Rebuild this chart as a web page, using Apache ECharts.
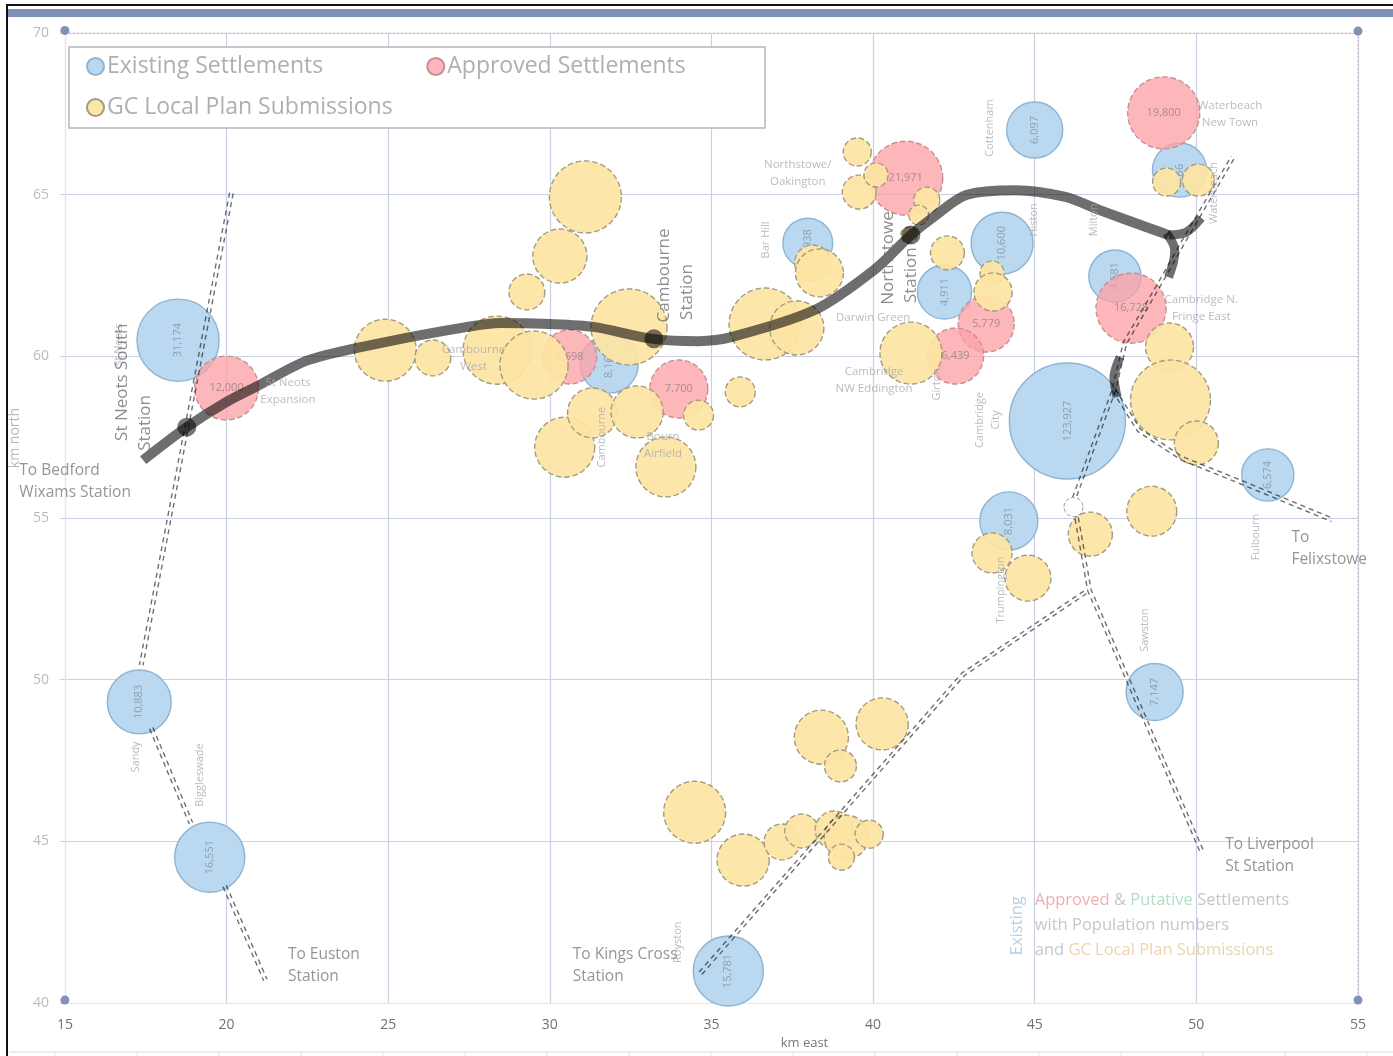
<!DOCTYPE html>
<html>
<head>
<meta charset="utf-8">
<title>Settlements around Cambridge</title>
<script src="https://cdn.jsdelivr.net/npm/echarts@6/dist/echarts.min.js"></script>
<style>
  html, body { margin: 0; padding: 0; background: #fff; }
  #chart { width: 1393px; height: 1056px; }
</style>
</head>
<body>
<div id="chart"></div>
<script>
// km east, km north, bubble diameter in km, population label
const existing = [
  [18.50, 60.50, 2.52, '31,174'], [17.30, 49.31, 1.96, '10,883'], [19.48, 44.51, 2.15, '16,551'],
  [31.84, 59.76, 1.78, '8,161'], [37.98, 63.50, 1.53, '4,938'], [42.21, 61.99, 1.66, '4,911'],
  [43.99, 63.50, 1.90, '10,600'], [45.00, 67.00, 1.72, '6,097'], [47.48, 62.48, 1.60, '4,681'],
  [46.01, 58.00, 3.56, '123,927'], [44.20, 54.91, 1.78, '8,031'], [49.48, 65.76, 1.66, '66'],
  [52.21, 56.33, 1.60, '6,574'], [48.71, 49.62, 1.75, '7,147'], [35.52, 40.99, 2.15, '15,781']
];
const approved = [
  [20.00, 59.02, 1.96, '12,000'], [30.61, 59.98, 1.66, '5,698'], [33.99, 58.99, 1.78, '7,700'],
  [41.01, 65.51, 2.27, '21,971'], [48.99, 67.53, 2.21, '19,800'], [47.98, 61.49, 2.15, '16,728'],
  [43.50, 61.00, 1.72, '5,779'], [42.55, 60.01, 1.72, '6,439']
];
// km east, km north, bubble diameter in km
const submissions = [
  [31.10, 64.93, 2.21], [30.31, 63.10, 1.66], [29.29, 61.99, 1.10], [32.45, 60.91, 2.33],
  [30.46, 57.19, 1.84], [31.32, 58.25, 1.53], [32.70, 58.28, 1.60], [34.60, 58.18, 0.92],
  [33.59, 56.58, 1.84], [35.89, 58.90, 0.92], [36.66, 61.00, 2.21], [37.64, 60.88, 1.66],
  [38.13, 62.89, 1.10], [38.34, 62.58, 1.47], [39.51, 66.32, 0.86], [39.57, 65.08, 1.04],
  [40.09, 65.61, 0.74], [41.66, 64.83, 0.80], [41.41, 64.37, 0.61], [41.10, 63.75, 0.49],
  [41.17, 60.10, 1.90], [42.30, 63.20, 1.04], [43.68, 62.58, 0.74], [43.71, 61.99, 1.17],
  [49.08, 65.39, 0.86], [50.06, 65.45, 0.98], [49.17, 60.29, 1.47], [49.20, 58.65, 2.45],
  [50.00, 57.32, 1.35], [48.62, 55.21, 1.53], [46.72, 54.50, 1.35], [43.68, 53.92, 1.23],
  [44.79, 53.14, 1.41], [24.91, 60.19, 1.90], [26.38, 59.95, 1.10], [28.37, 60.19, 2.09],
  [29.51, 59.73, 2.09], [34.48, 45.90, 1.90], [35.98, 44.42, 1.60], [37.18, 44.98, 1.10],
  [37.79, 45.32, 1.04], [38.80, 45.35, 1.17], [39.17, 45.13, 1.35], [39.02, 44.51, 0.80],
  [39.88, 45.22, 0.86], [38.40, 48.22, 1.66], [38.99, 47.33, 0.98], [40.28, 48.63, 1.60]
];

// East West Rail, thick line
const mainLine = [
  [17.42, 56.79], [18.77, 57.81], [20.00, 58.59], [21.01, 59.11], [22.55, 59.89], [24.91, 60.44],
  [27.45, 60.91], [28.47, 61.03], [30.00, 61.00], [31.35, 60.91], [33.19, 60.54], [34.60, 60.47],
  [35.64, 60.60], [38.19, 61.43], [40.03, 62.67], [41.17, 63.75], [41.87, 64.31], [42.88, 64.99],
  [44.42, 65.14], [45.95, 64.93], [46.99, 64.53], [48.53, 63.97], [49.14, 63.75]
];
const branchNorth = [[49.14, 63.75], [49.69, 63.84], [50.15, 64.28]];
const branchSouth = [[49.08, 63.81], [49.33, 63.29], [49.29, 62.92], [49.14, 62.45]];
const branchCity = [[47.64, 59.98], [47.45, 59.36], [47.55, 58.74]];
const stations = [[18.77, 57.81], [33.22, 60.54], [41.17, 63.75]];
const newStation = [[46.20, 55.34]];

// existing double track routes
const routeEcml = [[20.15, 65.05], [17.36, 50.45]];
const routeSandy = [[17.67, 48.50], [18.90, 45.56]];
const routeEuston = [[19.94, 43.62], [21.20, 40.71]];
const routeKingsCross = [[34.66, 40.92], [42.79, 50.17], [46.66, 52.77]];
const routeLiverpool = [[50.15, 44.73], [46.69, 52.77], [46.20, 55.56], [47.45, 58.96], [47.79, 60.41], [48.93, 62.36], [49.63, 63.60], [51.13, 66.16]];
const routeFelixstowe = [[47.45, 58.96], [48.22, 57.72], [49.54, 56.85], [51.38, 56.11], [54.20, 54.94]];
const routes = [routeEcml, routeSandy, routeEuston, routeKingsCross, routeLiverpool, routeFelixstowe];

const placeNames = [
  [21.90, 58.93, 'St Neots\nExpansion'], [27.64, 59.95, 'Cambourne\nWest'], [33.50, 57.26, 'Bourn\nAirfield'],
  [37.67, 65.67, 'Northstowe/\nOakington'], [40.00, 61.18, 'Darwin Green'], [40.03, 59.27, 'Cambridge\nNW Eddington'],
  [51.04, 67.49, 'Waterbeach\nNew Town'], [50.15, 61.49, 'Cambridge N.\nFringe East']
];
const placeNamesUp = [
  [16.66, 60.35, 'St Neots'], [31.60, 57.50, 'Cambourne'], [36.69, 63.60, 'Bar Hill'], [41.96, 59.14, 'Girton'],
  [43.56, 58.03, 'Cambridge\nCity'], [43.62, 67.06, 'Cottenham'], [44.97, 64.22, 'Histon'], [46.84, 64.22, 'Milton'],
  [50.55, 65.05, 'Waterbeach'], [51.84, 54.41, 'Fulbourn'], [48.40, 51.53, 'Sawston'], [43.96, 52.77, 'Trumpington'],
  [33.96, 41.88, 'Royston'], [17.18, 47.61, 'Sandy'], [19.17, 47.05, 'Biggleswade']
];
const stationNames = [
  [13.59, 56.14, 'To Bedford\nWixams Station'], [21.90, 41.17, 'To Euston\nStation'],
  [30.71, 41.17, 'To Kings Cross\nStation'], [50.89, 44.57, 'To Liverpool\nSt Station'], [52.94, 54.04, 'To\nFelixstowe']
];
const stationNamesUp = [
  [16.78, 59.20, 'St Neots South'], [17.48, 57.94, 'Station'], [33.53, 62.50, 'Cambourne'],
  [34.26, 61.99, 'Station'], [40.46, 63.04, 'Northstowe'], [41.17, 62.51, 'Station']
];

const xTicks = { min: 15, max: 55, interval: 5 };
const yTicks = { min: 40, max: 70, interval: 5 };

const FONT = '"Open Sans", sans-serif';
const PX_PER_KM = 32.6;

// second rail of a track, shifted sideways from the route
function parallel(route, off) {
  return route.map((p, i) => {
    let a = route[Math.max(i - 1, 0)];
    let b = route[Math.min(i + 1, route.length - 1)];
    let dx = b[0] - a[0], dy = b[1] - a[1];
    let len = Math.sqrt(dx * dx + dy * dy);
    return [p[0] - dy / len * off, p[1] + dx / len * off];
  });
}

let bubbles = (name, rows, color, border, borderType, labelStyle, z) => ({
  name: name,
  type: 'scatter',
  z: z,
  silent: true,
  data: rows.map(r => ({ value: [r[0], r[1], r[2]], name: r[3] || '' })),
  symbolSize: v => v[2] * PX_PER_KM,
  itemStyle: { color: color, opacity: 1, borderColor: border, borderWidth: 1.4, borderType: borderType },
  label: Object.assign({ show: true, position: 'inside', formatter: '{b}', fontFamily: FONT }, labelStyle)
});

let railLine = (rows, width) => ({
  type: 'line',
  z: 8,
  silent: true,
  blendMode: 'multiply',
  data: rows,
  smooth: 0.3,
  showSymbol: false,
  lineStyle: { color: '#6e6e6e', width: width, cap: 'butt' }
});

let dashedLine = rows => ({
  type: 'line',
  z: 9,
  silent: true,
  blendMode: 'multiply',
  data: rows,
  showSymbol: false,
  lineStyle: { color: '#6f6f6f', width: 1.4, type: [5, 4] }
});

let textSeries = (rows, style) => ({
  type: 'scatter',
  z: 10,
  silent: true,
  clip: false,
  symbolSize: 0,
  data: rows.map(r => ({ value: [r[0], r[1]], name: r[2] })),
  label: Object.assign({ show: true, position: 'inside', formatter: '{b}', fontFamily: FONT }, style)
});

let series = [
  bubbles('Existing Settlements', existing, '#bad8ef', '#8db4d4', 'solid', { rotate: 90, color: '#8c9fb2', fontSize: 11 }, 3),
  bubbles('Approved Settlements', approved, 'rgba(253,160,165,0.76)', '#c78f95', 'dashed', { color: '#a98b8f', fontSize: 11 }, 4),
  bubbles('GC Local Plan Submissions', submissions, 'rgba(253,228,163,0.92)', '#a39c80', 'dashed', { show: false }, 5),
  railLine(mainLine, 10), railLine(branchNorth, 9), railLine(branchSouth, 9), railLine(branchCity, 9),
  {
    type: 'scatter', z: 8, silent: true, blendMode: 'multiply', data: stations, symbolSize: 19,
    itemStyle: { color: '#777', opacity: 1 }
  },
  {
    type: 'scatter', z: 9, silent: true, data: newStation, symbolSize: 19,
    itemStyle: { color: '#fff', opacity: 1, borderColor: '#999', borderWidth: 1, borderType: 'dashed' }
  },
  // pink dotted frame and the blue corner dots
  {
    type: 'line', z: 2, silent: true, clip: false, showSymbol: false,
    data: [[xTicks.min, yTicks.max], [xTicks.max, yTicks.max], [xTicks.max, yTicks.min]],
    lineStyle: { color: '#e3b8c6', width: 1.2, type: [2, 2] }
  },
  {
    type: 'scatter', z: 2, silent: true, clip: false, symbolSize: 9,
    data: [[15, 70.08], [55, 70.06], [15, 40.09], [55, 40.09]],
    itemStyle: { color: '#8391b4', opacity: 1 }
  },
  textSeries(placeNames, { color: '#a9abae', fontSize: 11.5, lineHeight: 17 }),
  textSeries(placeNamesUp, { color: '#a9abae', fontSize: 11, rotate: 90, lineHeight: 16 }),
  textSeries(stationNames, { color: '#7b7b7b', fontSize: 15.5, align: 'left', lineHeight: 22 }),
  textSeries(stationNamesUp, { color: '#727272', fontSize: 17, rotate: 90 }),
  {
    type: 'scatter', z: 10, silent: true, symbolSize: 0,
    data: [{
      value: [45.0, 42.4],
      label: {
        show: true, position: 'inside', align: 'left', fontFamily: FONT, fontSize: 16.5, lineHeight: 25,
        color: '#b5b8bc',
        formatter: '{a|Approved} & {p|Putative} Settlements\nwith Population numbers\nand {g|GC Local Plan Submissions}',
        rich: {
          a: { color: '#e79a9f', fontSize: 16.5, fontFamily: FONT },
          p: { color: '#9fd6b6', fontSize: 16.5, fontFamily: FONT },
          g: { color: '#e9c99c', fontSize: 16.5, fontFamily: FONT }
        }
      }
    }, {
      value: [44.45, 42.39],
      label: { show: true, position: 'inside', rotate: 90, fontFamily: FONT, fontSize: 16.5, color: '#9cc4de', formatter: 'Existing' }
    }]
  }
];
routes.forEach(r => {
  series.push(dashedLine(parallel(r, 0.055)));
  series.push(dashedLine(parallel(r, -0.055)));
});

let bottomTicks = [];
for (let x = 55; x < 1393; x += 82) {
  bottomTicks.push({ type: 'line', shape: { x1: x, y1: 1052, x2: x, y2: 1056 }, style: { stroke: '#dde0e6', lineWidth: 1 } });
}

let legendBase = {
  icon: 'circle',
  itemWidth: 17,
  itemHeight: 17,
  itemGap: 103,
  textStyle: { fontFamily: FONT, fontSize: 23, color: '#adb0b3', padding: [0, 0, 0, -2] }
};

let chart = echarts.init(document.getElementById('chart'), null, { renderer: 'canvas' });
chart.setOption({
  backgroundColor: '#fff',
  animation: false,
  grid: { left: 54, right: 35, top: 33, bottom: 53, containLabel: false },
  legend: [
    Object.assign({}, legendBase, { left: 81, top: 50, data: ['Existing Settlements', 'Approved Settlements'] }),
    Object.assign({}, legendBase, { left: 81, top: 91, data: ['GC Local Plan Submissions'] })
  ],
  xAxis: {
    type: 'value',
    min: xTicks.min, max: xTicks.max, interval: xTicks.interval,
    name: 'km east', nameLocation: 'middle', nameGap: 27,
    nameTextStyle: { fontFamily: FONT, fontSize: 13, color: '#777', padding: [0, 0, 0, 186] },
    axisLine: { show: true, onZero: false, lineStyle: { color: '#e3e5ea' } },
    axisTick: { show: false },
    axisLabel: { margin: 15, fontFamily: FONT, fontSize: 14, color: '#6f7174' },
    splitLine: { show: true, lineStyle: { color: '#c8d0e2', width: 1.2 } }
  },
  yAxis: {
    type: 'value',
    min: yTicks.min, max: yTicks.max, interval: yTicks.interval,
    name: 'km north', nameLocation: 'middle', nameGap: 30,
    nameTextStyle: { fontFamily: FONT, fontSize: 14, color: '#b5b7ba', padding: [0, 0, 0, 160] },
    axisLine: { show: true, onZero: false, lineStyle: { color: '#e3e5ea' } },
    axisTick: { show: true, length: 5, lineStyle: { color: '#c8d0e2' } },
    axisLabel: { margin: 16, fontFamily: FONT, fontSize: 14, color: '#b9bbbe' },
    splitLine: { show: true, lineStyle: { color: '#c8d0e2', width: 1.2 } }
  },
  graphic: [
    { type: 'rect', z: 1, shape: { x: 69, y: 47, width: 696, height: 81 }, style: { fill: '#fff', stroke: '#b4b7bb', lineWidth: 1.5 } },
    { type: 'rect', z: 20, shape: { x: 6, y: 9, width: 1387, height: 8 }, style: { fill: '#7f92b5' } },
    { type: 'rect', z: 20, shape: { x: 6, y: 4, width: 1387, height: 2 }, style: { fill: '#111' } },
    { type: 'rect', z: 20, shape: { x: 6, y: 4, width: 2, height: 1052 }, style: { fill: '#111' } },
    { type: 'line', z: 20, shape: { x1: 9, y1: 1052, x2: 1393, y2: 1052 }, style: { stroke: '#d6d9df', lineWidth: 1 } }
  ].concat(bottomTicks),
  series: series
});
</script>
</body>
</html>
